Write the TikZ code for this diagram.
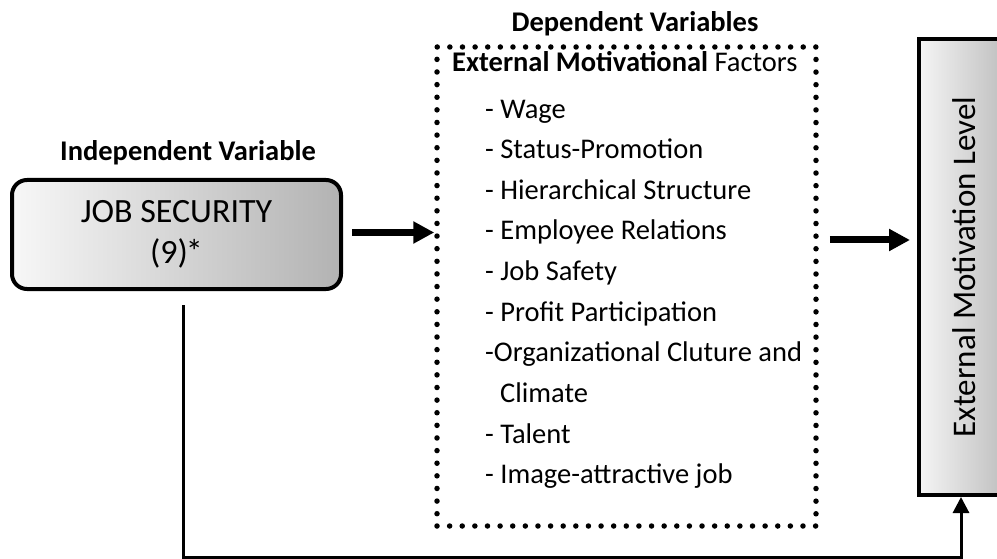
\documentclass[tikz,border=0pt]{standalone}
\usepackage{fontspec}
\usepackage{graphicx}
\setmainfont{Carlito}
\usetikzlibrary{positioning,arrows.meta}

\tikzset{
	varbox/.style={draw, line width=4pt, align=center, inner sep=0pt},
	factorbox/.style={draw, line width=5.5pt, line cap=round, dash pattern=on 0pt off 12.62pt, minimum width=379pt, minimum height=479pt, inner sep=0pt},
	heading/.style={font=\fontsize{28.5}{34}\selectfont\bfseries, anchor=base, inner sep=0pt},
	item/.style={font=\fontsize{28.5}{34}\selectfont, anchor=base west, inner sep=0pt},
	bigarrow/.style={line width=7pt, -{Triangle[length=21pt,width=21pt]}},
	feedback/.style={line width=3pt, -{Triangle[length=16pt,width=16pt]}},
}

\begin{document}
\begin{tikzpicture}[x=1pt, y=-1pt]
	\useasboundingbox (0,0) rectangle (997,559);

	% independent variable
	\node[varbox, rounded corners=15pt, left color=black!3, right color=black!30, minimum width=329pt, minimum height=109pt, font=\fontsize{34}{41}\selectfont] (js) at (176.5,234.5) {JOB SECURITY\\(9)\kern-2pt*};
	\node[heading] (iv) at (188,161) {Independent Variable};

	% dependent variables
	\node[factorbox] (factors) at (626.5,286.5) {};
	\node[heading] (dv) at (635,32) {Dependent Variables};
	\node[item] (head) at (452,72) {\textbf{External Motivational} Factors};
	\foreach \x/\t [count=\i] in {485/- Wage, 485/- Status-Promotion, 485/- Hierarchical Structure, 485/- Employee Relations, 485/- Job Safety, 485/- Profit Participation, 485/-Organizational Cluture and, 500/Climate, 485/- Talent, 485/- Image-attractive job}
		\node[item] (f\i) at (\x, 77.6+40.6*\i) {\t};

	% outcome
	\node[varbox, left color=black!4, right color=black!26, minimum width=90pt, minimum height=456pt, font=\fontsize{33}{40}\selectfont] (level) at (964,267) {\rotatebox{90}{External Motivation Level}};

	\coordinate (out) at ([yshift=46.5pt]factors.east);
	\coordinate (corner) at (183,557);
	\draw[bigarrow, shorten <=9pt] ([yshift=2pt]js.east) -- ([yshift=2pt]js.east -| factors.west);
	\draw[bigarrow, shorten <=11pt, shorten >=7pt] (out) -- (out -| level.west);
	\draw[feedback, shorten <=14pt] ([xshift=6.5pt]js.south) -- (corner) -| ([xshift=-3pt]level.south);
\end{tikzpicture}
\end{document}
